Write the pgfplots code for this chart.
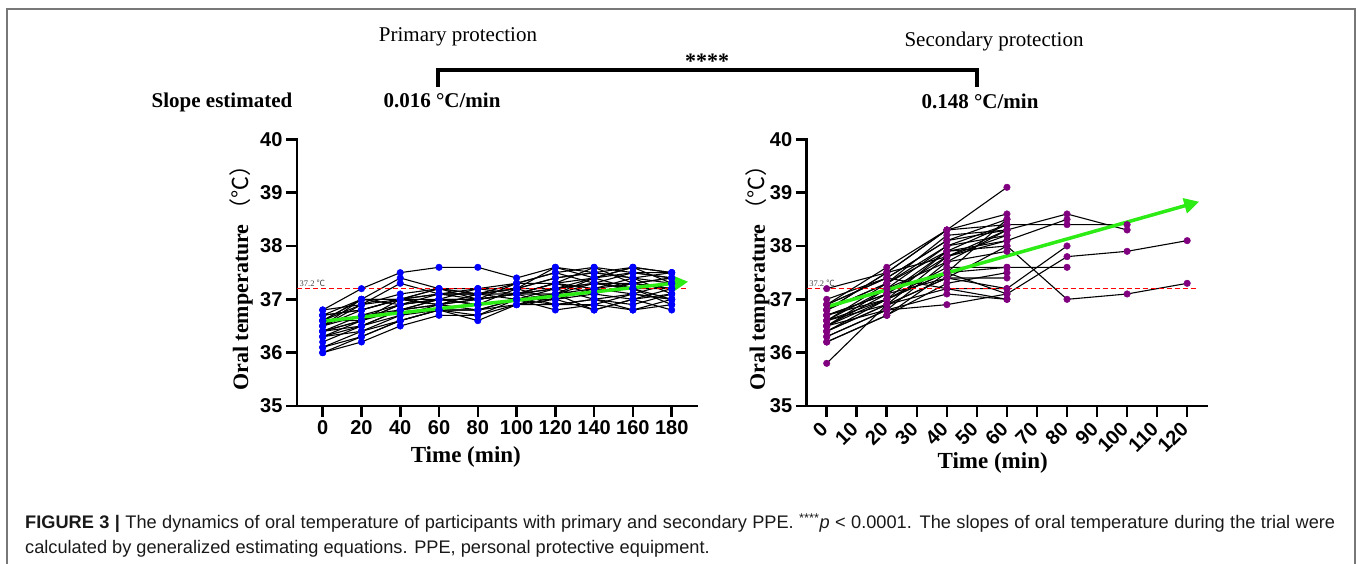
\documentclass[border=0pt]{standalone}
\usepackage{fontspec}
\setmainfont{Liberation Serif}
\setsansfont{Liberation Sans}
\newfontfamily\cjk{Noto Sans CJK SC}
\usepackage{pgfplots}
\usepackage{pgfplotstable}
\pgfplotsset{compat=1.18}
\usetikzlibrary{arrows.meta}
\definecolor{ppblue}{RGB}{0,0,255}
\definecolor{pppurple}{RGB}{128,0,128}
\definecolor{ppgreen}{RGB}{45,235,20}
\definecolor{ppred}{RGB}{255,0,0}
\definecolor{framegray}{RGB}{120,120,120}

% Primary protection: rows = time (min), columns = participants
\pgfplotstableread{
t   p1   p2   p3   p4   p5   p6   p7   p8   p9   p10  p11  p12  p13  p14  p15  p16  p17  p18  p19  p20  p21  p22  p23  p24  p25
0   36.8 36.7 36.6 36.5 36.4 36.3 36.1 36.0 36.0 36.5 36.6 36.4 36.3 36.7 36.5 36.8 36.4 36.6 36.3 36.5 36.7 36.1 36.4 36.6 36.2
20  37.2 37.0 36.9 36.8 36.7 36.6 36.4 36.2 36.3 36.9 37.0 36.6 36.5 36.8 36.7 36.9 36.5 36.6 36.4 37.0 36.8 36.3 36.6 37.0 36.5
40  37.5 37.4 37.3 37.0 36.9 36.8 36.7 36.5 36.6 37.0 36.9 37.0 36.8 37.0 36.8 37.1 36.7 36.9 36.6 37.0 37.0 36.6 36.9 37.0 36.8
60  37.6 37.2 37.1 37.2 37.0 36.9 36.8 36.7 36.8 37.1 37.0 37.1 37.0 36.9 37.0 37.2 36.9 37.0 36.8 37.0 36.9 36.8 37.1 37.2 36.9
80  37.6 37.2 37.1 37.0 36.9 37.1 36.6 36.7 36.8 37.2 37.0 37.1 36.9 37.0 37.0 37.1 36.8 37.2 36.7 36.9 37.1 36.8 37.0 37.1 37.0
100 37.4 37.3 37.2 37.1 37.0 37.1 36.9 37.0 36.9 37.2 37.1 37.2 37.0 37.3 37.1 37.2 37.0 37.1 36.9 37.2 37.3 37.0 37.1 37.0 37.1
120 37.6 37.5 37.4 37.3 37.2 37.1 37.0 36.8 36.9 37.0 37.3 37.2 37.1 37.5 37.2 37.6 37.0 36.9 37.1 37.4 37.3 36.9 37.2 37.1 37.3
140 37.5 37.6 37.5 37.4 37.3 37.4 37.2 36.9 37.0 36.8 37.1 37.3 37.2 37.3 37.0 37.4 37.1 36.9 37.3 37.5 37.2 37.0 37.4 36.8 37.6
160 37.6 37.5 37.4 37.6 37.3 37.2 37.4 37.1 36.8 37.0 37.3 37.5 37.1 37.2 36.9 37.5 37.0 36.8 37.2 37.4 37.3 37.1 37.6 37.0 37.3
180 37.5 37.4 37.5 37.3 37.4 37.2 37.1 37.0 36.9 36.8 37.2 37.4 37.3 37.0 37.1 37.5 37.2 37.0 36.9 37.3 37.4 37.0 37.5 37.1 37.2
}\primtab

% Secondary protection: rows = time (min), columns = participants
\pgfplotstableread{
t   s1   s2   s3   s4   s5   s6   s7   s8   s9   s10  s11  s12  s13  s14  s15  s16  s17  s18  s19  s20  s21  s22  s23  s24  s25  s26  s27  s28
0   35.8 37.2 36.9 36.8 36.5 36.6 36.4 36.7 36.5 36.2 36.3 36.6 36.8 36.4 36.7 36.9 36.5 36.3 36.6 36.8 37.0 36.2 36.7 36.5 36.9 36.6 36.4 36.8
20  36.9 37.5 37.4 37.3 37.1 37.0 36.9 37.1 37.0 36.7 36.8 37.3 37.5 36.9 37.0 37.4 36.8 36.8 37.2 37.3 37.4 36.7 37.1 37.2 37.6 36.9 37.0 37.5
40  37.4 38.3 38.1 37.9 37.8 37.5 37.2 37.4 37.6 37.5 37.7 38.0 38.3 37.8 37.9 38.1 37.1 36.9 37.7 38.2 37.2 37.3 37.9 38.0 38.3 37.4 37.5 37.8
60  37.2 39.1 38.3 38.4 38.1 37.1 37.2 38.0 37.6 38.5 38.3 38.4 38.6 38.2 38.0 38.5 37.0 37.1 37.9 38.3 37.0 37.5 38.1 38.2 38.4 37.4 37.6 38.3
80  nan  nan  38.6 38.4 38.5 37.8 38.0 37.0 37.6 nan  nan  nan  nan  nan  nan  nan  nan  nan  nan  nan  nan  nan  nan  nan  nan  nan  nan  nan
100 nan  nan  38.3 38.4 nan  37.9 nan  37.1 nan  nan  nan  nan  nan  nan  nan  nan  nan  nan  nan  nan  nan  nan  nan  nan  nan  nan  nan  nan
120 nan  nan  nan  nan  nan  38.1 nan  37.3 nan  nan  nan  nan  nan  nan  nan  nan  nan  nan  nan  nan  nan  nan  nan  nan  nan  nan  nan  nan
}\sectab

\pgfplotsset{
  gp/.style={
    scale only axis, clip=false,
    anchor=south west,
    height=266.7pt,
    axis x line*=bottom, axis y line*=left,
    axis line style={line width=2.8pt, line cap=rect},
    major tick style={line width=2.6pt, black},
    tick align=outside, major tick length=11pt,
    ymin=35, ymax=40, ytick={35,36,37,38,39,40},
    /pgf/number format/assume math mode=true,
    ticklabel style={font=\sffamily\bfseries\fontsize{20}{22}\selectfont},
    every axis x label/.style={at={(axis description cs:0.5,0)}, anchor=center, font=\bfseries\fontsize{23}{26}\selectfont},
    every axis y label/.style={rotate=90, anchor=center, font=\bfseries\fontsize{22}{24}\selectfont},
    xlabel={Time (min)},
    ylabel={Oral temperature\,{\cjk\mdseries （℃）}},
  }
}

\begin{document}
\begin{tikzpicture}[x=1pt,y=1pt]
\path[use as bounding box] (0,0) rectangle (1357,564);
% frame
\draw[framegray, line width=2pt] (7,-2) -- (7,555) -- (1355,555) -- (1355,-2);

% header
\node[font=\fontsize{21}{24}\selectfont] at (458,527) {Primary protection};
\node[font=\fontsize{21}{24}\selectfont] at (994,523) {Secondary protection};
\node[font=\bfseries\fontsize{22}{24}\selectfont] at (707,503) {****};
\draw[line width=4pt] (438,477) -- (438,494) -- (977,494) -- (977,477);
\node[font=\bfseries\fontsize{21}{24}\selectfont] at (222,462) {Slope estimated};
\node[font=\bfseries\fontsize{21}{24}\selectfont] at (442,464) {0.016 °C/min};
\node[font=\bfseries\fontsize{21}{24}\selectfont] at (980,463) {0.148 °C/min};

% left panel
\begin{axis}[gp, at={(297pt,158pt)}, width=399.7pt,
  xmin=-13.25, xmax=192.9, xtick={0,20,...,180},
  xlabel style={xshift=-31pt, yshift=-51pt},
  ylabel style={at={(axis description cs:-0.14,0.5)}},
]
\pgfplotsinvokeforeach{1,...,25}{
  \addplot[black, line width=1.1pt] table[x=t, y=p#1] {\primtab};
}
\pgfplotsinvokeforeach{1,...,25}{
  \addplot[only marks, mark=*, mark size=3.3pt, ppblue] table[x=t, y=p#1] {\primtab};
}
\addplot[ppred, line width=1.5pt, dash pattern=on 5pt off 3pt] coordinates {(-13.25,37.2) (188.4,37.2)};
\node[anchor=south west, inner sep=1pt, text=black!75, font=\fontsize{8.5}{9}\selectfont] at (axis cs:-12.5,37.22) {37.2 {\cjk ℃}};
\addplot[ppgreen, line width=3.5pt, -{Triangle[length=15pt,width=15pt]}] coordinates {(0,36.59) (188.5,37.33)};
\end{axis}

% right panel
\begin{axis}[gp, at={(806.7pt,158pt)}, width=400pt,
  xmin=-6.66, xmax=126.5, xtick={0,10,...,120},
  xticklabel style={rotate=45, anchor=east},
  xticklabel shift=6pt,
  xlabel style={xshift=-14pt, yshift=-57pt},
  ylabel style={at={(axis description cs:-0.1225,0.5)}},
]
\pgfplotsinvokeforeach{1,...,28}{
  \addplot[black, line width=1.1pt] table[x=t, y=s#1] {\sectab};
}
\pgfplotsinvokeforeach{1,...,28}{
  \addplot[only marks, mark=*, mark size=3.3pt, pppurple] table[x=t, y=s#1] {\sectab};
}
\addplot[ppred, line width=1.5pt, dash pattern=on 5pt off 3pt] coordinates {(-6.66,37.2) (123.6,37.2)};
\node[anchor=south west, inner sep=1pt, text=black!75, font=\fontsize{8.5}{9}\selectfont] at (axis cs:-6.2,37.22) {37.2 {\cjk ℃}};
\addplot[ppgreen, line width=3.5pt, -{Triangle[length=15pt,width=15pt]}] coordinates {(0,36.86) (124,38.83)};
\end{axis}

% caption
\node[anchor=base west, inner sep=0pt, text=black!90, font=\sffamily\fontsize{18.2}{20}\selectfont] at (25,35)
  {\makebox[1310pt][s]{\textbf{FIGURE 3 |} The dynamics of oral temperature of participants with primary and secondary PPE. \textsuperscript{****}\textit{p} < 0.0001. The slopes of oral temperature during the trial were}};
\node[anchor=base west, inner sep=0pt, text=black!90, font=\sffamily\fontsize{18.2}{20}\selectfont] at (25,10)
  {calculated by generalized estimating equations. PPE, personal protective equipment.};
\end{tikzpicture}
\end{document}
